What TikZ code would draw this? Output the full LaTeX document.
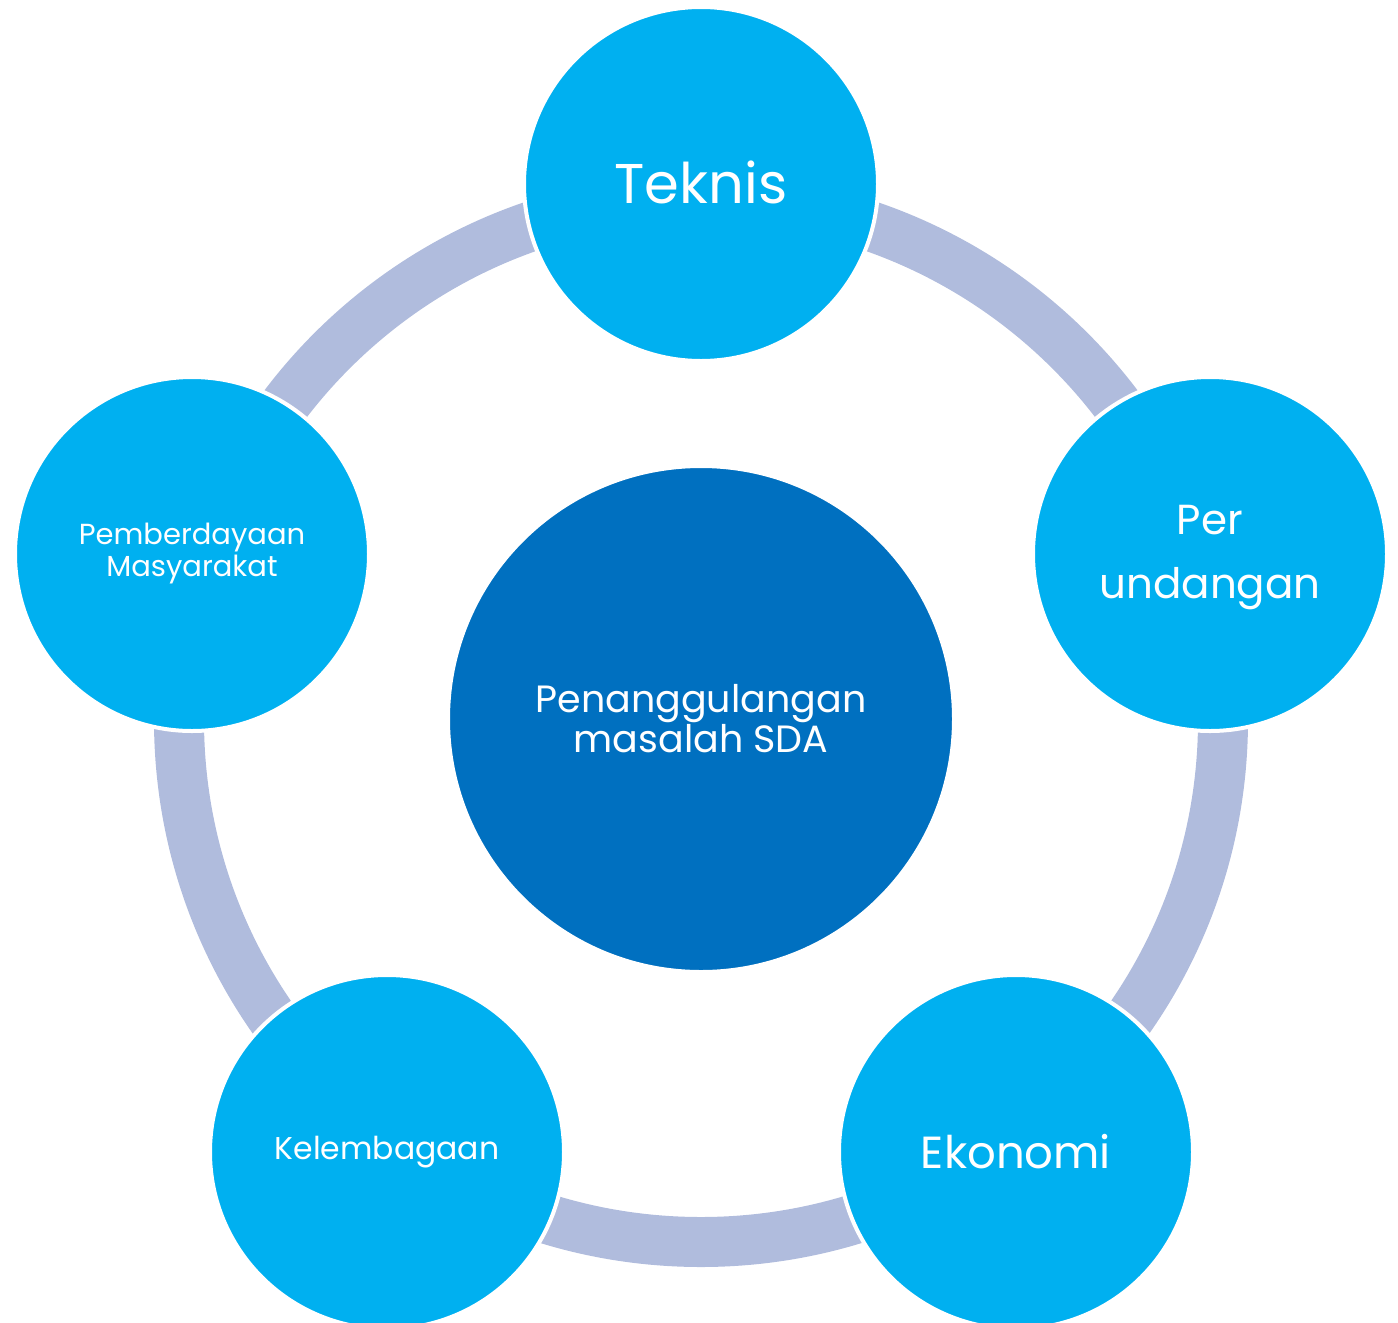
\documentclass[tikz,border=0pt]{standalone}
\usepackage{fontspec}
\setmainfont{Poppins}
\definecolor{ringc}{RGB}{176,188,221}
\definecolor{outerc}{RGB}{0,176,240}
\definecolor{innerc}{RGB}{0,112,192}
\begin{document}
\begin{tikzpicture}[x=1pt,y=-1pt,
  outer/.style={circle, fill=outerc, draw=white, line width=4pt, minimum size=354pt, inner sep=0pt, text=white, align=center},
  inner/.style={circle, fill=innerc, draw=white, line width=4pt, minimum size=506pt, inner sep=0pt, text=white, align=center},
  ring/.style={draw=ringc, line width=50pt}]
\useasboundingbox (0,0) rectangle (1398,1323);
\coordinate (mid) at (701,720);
\draw[ring] (mid) circle (522);
\node[inner, font=\fontsize{38}{40}\selectfont] (center) at (701,719) {Penanggulangan\\masalah SDA};
\node[outer, font=\fontsize{56}{60}\selectfont] (teknis) at (701,184) {\raisebox{4pt}{Teknis}};
\node[outer, font=\fontsize{42}{64}\selectfont] (per) at (1210,554) {\raisebox{-4pt}{\begin{tabular}{@{}c@{}}Per\\undangan\end{tabular}}};
\node[outer, font=\fontsize{45}{50}\selectfont] (eko) at (1016,1152) {Ekonomi};
\node[outer, font=\fontsize{31.5}{36}\selectfont] (kel) at (387,1152) {\raisebox{-3pt}{Kelembagaan}};
\node[outer, font=\fontsize{29}{32}\selectfont] (pem) at (192,554) {Pemberdayaan\\Masyarakat};
\end{tikzpicture}
\end{document}
